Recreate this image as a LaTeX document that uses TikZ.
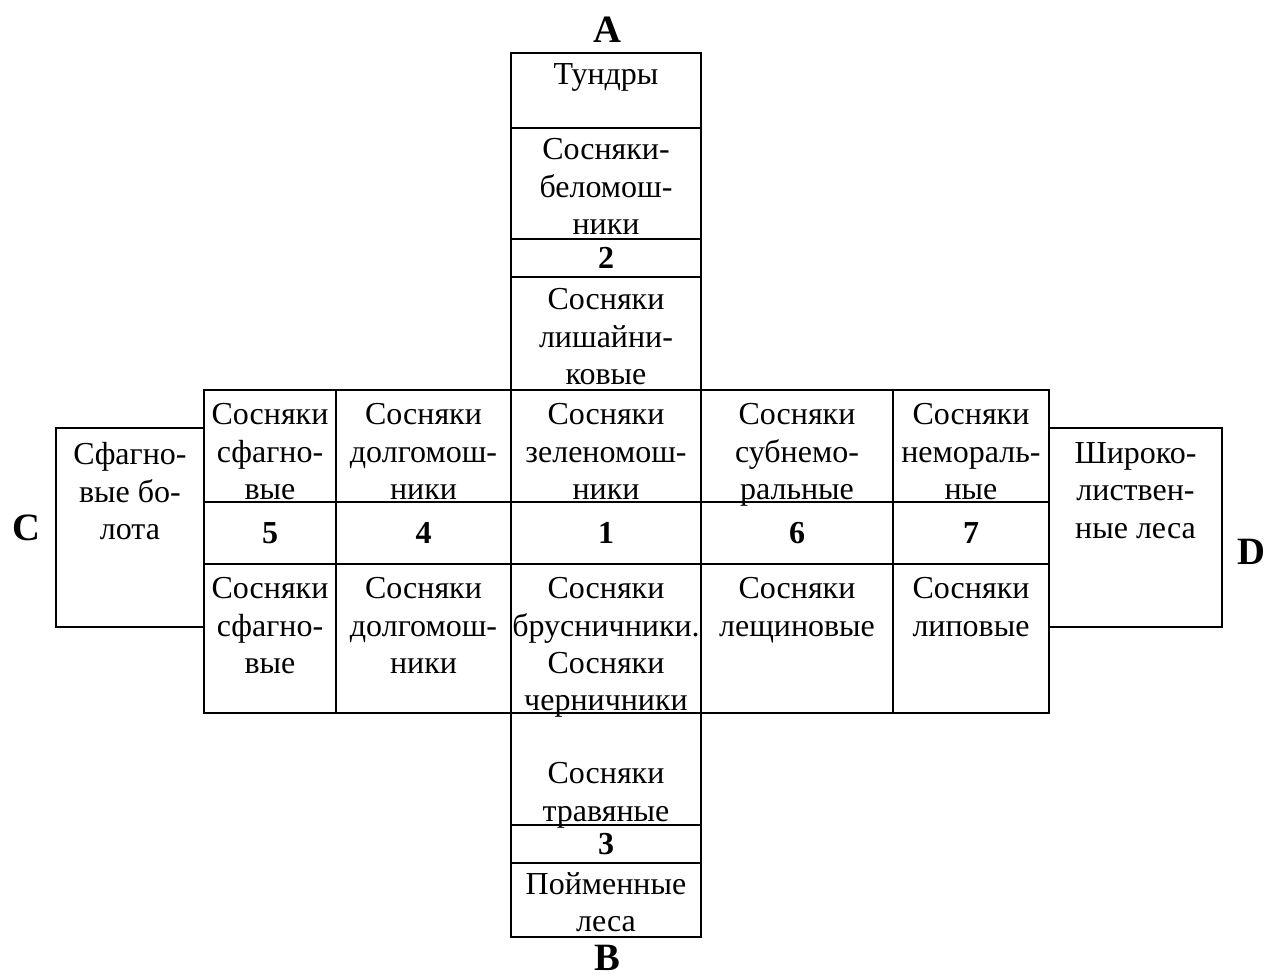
\documentclass[tikz,border=0pt]{standalone}
\usepackage{fontspec}
\setmainfont{Liberation Serif}

\begin{document}
\begin{tikzpicture}[x=0.375pt,y=-0.375pt,
    cell/.style={draw,line width=0.8pt},
    txt/.style={anchor=north,align=center,inner sep=0pt,font=\fontsize{12}{14}\selectfont},
    num/.style={inner sep=0pt,font=\fontsize{12}{14}\selectfont\bfseries},
    lab/.style={inner sep=0pt,font=\fontsize{14.5}{17}\selectfont\bfseries}]
    \useasboundingbox(0,0)rectangle(1268,978);

    % upper column
    \draw[cell](511,53)rectangle(701,128);
    \draw[cell](511,128)rectangle(701,239);
    \draw[cell](511,239)rectangle(701,277);
    \draw[cell](511,277)rectangle(701,390);

    % middle band
    \draw[cell](204,390)rectangle(1049,713);
    \draw[cell](204,502)--(1049,502);
    \draw[cell](204,564)--(1049,564);
    \foreach \xc in {336,511,701,893}
        \draw[cell](\xc,390)--(\xc,713);

    % side boxes
    \draw[cell](204,428)--(56,428)--(56,627)--(204,627);
    \draw[cell](1049,428)--(1222,428)--(1222,627)--(1049,627);

    % lower column
    \draw[cell](511,713)rectangle(701,825);
    \draw[cell](511,825)rectangle(701,863);
    \draw[cell](511,863)rectangle(701,937);

    \node[txt](tundra)at(606,63){Тундры};
    \node[txt](belomosh)at(606,138){Сосняки-\\беломош-\\ники};
    \node[num](n2)at(606,258){2};
    \node[txt](lishain)at(606,288){Сосняки\\лишайни-\\ковые};

    \node[txt](sfagtop)at(270,403){Сосняки\\сфагно-\\вые};
    \node[txt](dolgtop)at(423.5,403){Сосняки\\долгомош-\\ники};
    \node[txt](zelen)at(606,403){Сосняки\\зеленомош-\\ники};
    \node[txt](subnem)at(797,403){Сосняки\\субнемо-\\ральные};
    \node[txt](nemor)at(971,403){Сосняки\\немораль-\\ные};

    \node[num](n5)at(270,533){5};
    \node[num](n4)at(423.5,533){4};
    \node[num](n1)at(606,533){1};
    \node[num](n6)at(797,533){6};
    \node[num](n7)at(971,533){7};

    \node[txt](sfagbot)at(270,577){Сосняки\\сфагно-\\вые};
    \node[txt](dolgbot)at(423.5,577){Сосняки\\долгомош-\\ники};
    \node[txt](brusn)at(606,577){Сосняки\\брусничники.\\Сосняки\\черничники};
    \node[txt](leshch)at(797,577){Сосняки\\лещиновые};
    \node[txt](lipov)at(971,577){Сосняки\\липовые};

    \node[txt](travyan)at(606,762){Сосняки\\травяные};
    \node[num](n3)at(606,844){3};
    \node[txt](poim)at(606,872){Пойменные\\леса};

    \node[txt](boloto)at(130,442){Сфагно-\\вые бо-\\лота};
    \node[txt](shirok)at(1135.5,442){Широко-\\листвен-\\ные леса};

    \node[lab](A)at(607,30){A};
    \node[lab](B)at(607,958){B};
    \node[lab](C)at(26,528){C};
    \node[lab](D)at(1251,552){D};
\end{tikzpicture}
\end{document}
